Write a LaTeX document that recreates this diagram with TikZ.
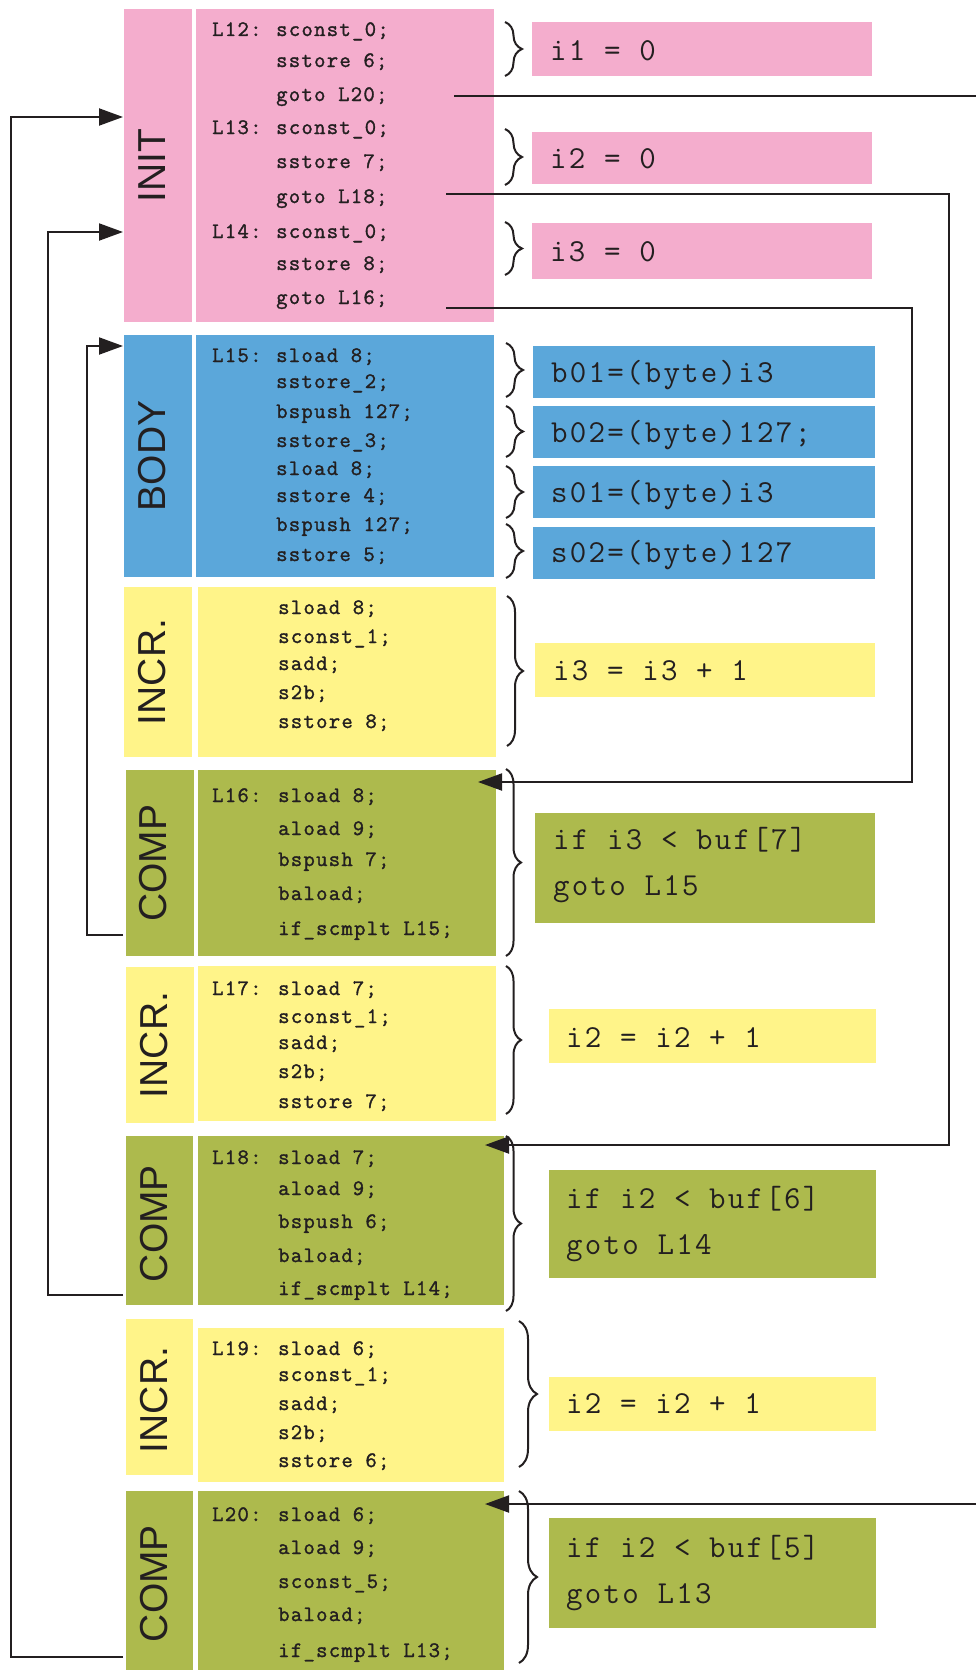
\documentclass[tikz,border=0pt]{standalone}
\usepackage{fontspec}
\usetikzlibrary{arrows.meta,decorations.pathreplacing,fit}
\newfontfamily\codefam[LetterSpace=6,FakeBold=1.5]{Latin Modern Mono}
\newfontfamily\resfam[LetterSpace=7]{Latin Modern Mono}
\newfontfamily\labfam{Liberation Sans}
\definecolor{ink}{HTML}{231F20}
\definecolor{pinkc}{HTML}{F4ADCD}
\definecolor{bluec}{HTML}{5BA7DA}
\definecolor{yelc}{HTML}{FFF489}
\definecolor{grnc}{HTML}{ADBA4D}

\begin{document}
\begin{tikzpicture}[x=1pt,y=-1pt,
  blk/.style={inner sep=0pt, outer sep=0pt, draw=none},
  code/.style={font=\codefam\fontsize{22}{24}\selectfont, text=ink, inner sep=0pt, anchor=base west},
  res/.style={font=\resfam\fontsize{32}{34}\selectfont, text=ink, inner sep=0pt, anchor=base west},
  lab/.style={font=\labfam\fontsize{39}{40}\selectfont, text=ink, inner sep=0pt, rotate=90},
  brc/.style={draw=ink, line width=2pt, decorate, decoration={brace, amplitude=#1}},
  brc/.default=17pt,
  conn/.style={draw=ink, line width=2pt},
  arr/.style={conn, -{Triangle[length=24pt,width=17pt]}}]

\useasboundingbox (0,0) rectangle (976,1670);

% ---------- section labels and code blocks ----------
\node[blk, fill=pinkc, fit={(124,9) (192,322)}]    (initlab)  {};
\node[blk, fill=pinkc, fit={(196,9) (494,322)}]    (initcode) {};
\node[blk, fill=bluec, fit={(124,335) (192,577)}]  (bodylab)  {};
\node[blk, fill=bluec, fit={(196,335) (494,577)}]  (bodycode) {};
\node[blk, fill=yelc, fit={(124,587) (192,757)}]   (inc1lab)  {};
\node[blk, fill=yelc, fit={(198,587) (496,757)}]   (inc1code) {};
\node[blk, fill=grnc, fit={(126,770) (194,956)}]   (comp1lab) {};
\node[blk, fill=grnc, fit={(198,770) (496,956)}]   (comp1code){};
\node[blk, fill=yelc, fit={(126,967) (194,1123)}]  (inc2lab)  {};
\node[blk, fill=yelc, fit={(198,966) (496,1121)}]  (inc2code) {};
\node[blk, fill=grnc, fit={(126,1136) (193,1305)}] (comp2lab) {};
\node[blk, fill=grnc, fit={(198,1136) (504,1305)}] (comp2code){};
\node[blk, fill=yelc, fit={(126,1319) (193,1475)}] (inc3lab)  {};
\node[blk, fill=yelc, fit={(198,1328) (504,1482)}] (inc3code) {};
\node[blk, fill=grnc, fit={(126,1491) (193,1670)}] (comp3lab) {};
\node[blk, fill=grnc, fit={(198,1491) (504,1670)}] (comp3code){};

\node[lab] (initT)  at ([xshift=-5.5pt]initlab.center)  {INIT};
\node[lab] (bodyT)  at ([xshift=-5.5pt]bodylab.center)  {BODY};
\node[lab] (inc1T)  at ([xshift=-5.5pt]inc1lab.center)  {INCR.};
\node[lab] (comp1T) at ([xshift=-7pt]comp1lab.center)   {COMP};
\node[lab] (inc2T)  at ([xshift=-6pt]inc2lab.center)    {INCR.};
\node[lab] (comp2T) at ([xshift=-5pt,yshift=-3pt]comp2lab.center) {COMP};
\node[lab] (inc3T)  at ([xshift=-5pt,yshift=-3pt]inc3lab.center)  {INCR.};
\node[lab] (comp3T) at ([xshift=-5pt,yshift=-3pt]comp3lab.center) {COMP};

% ---------- bytecode ----------
\node[code] (c12)  at (212,36)  {L12:};
\node[code] (c12a) at (276,36)  {sconst\_0;};
\node[code] (c12b) at (276,67)  {sstore 6;};
\node[code] (c12c) at (276,101) {goto L20;};
\node[code] (c13)  at (212,134) {L13:};
\node[code] (c13a) at (276,134) {sconst\_0;};
\node[code] (c13b) at (276,168) {sstore 7;};
\node[code] (c13c) at (276,203) {goto L18;};
\node[code] (c14)  at (212,238) {L14:};
\node[code] (c14a) at (276,238) {sconst\_0;};
\node[code] (c14b) at (276,270) {sstore 8;};
\node[code] (c14c) at (276,304) {goto L16;};

\node[code] (c15)  at (212,362) {L15:};
\node[code] (c15a) at (276,362) {sload 8;};
\node[code] (c15b) at (276,388) {sstore\_2;};
\node[code] (c15c) at (276,418) {bspush 127;};
\node[code] (c15d) at (276,447) {sstore\_3;};
\node[code] (c15e) at (276,475) {sload 8;};
\node[code] (c15f) at (276,502) {sstore 4;};
\node[code] (c15g) at (276,531) {bspush 127;};
\node[code] (c15h) at (276,561) {sstore 5;};

\node[code] (cxa) at (278,614) {sload 8;};
\node[code] (cxb) at (278,643) {sconst\_1;};
\node[code] (cxc) at (278,670) {sadd;};
\node[code] (cxd) at (278,699) {s2b;};
\node[code] (cxe) at (278,728) {sstore 8;};

\node[code] (c16)  at (212,802) {L16:};
\node[code] (c16a) at (278,802) {sload 8;};
\node[code] (c16b) at (278,835) {aload 9;};
\node[code] (c16c) at (278,866) {bspush 7;};
\node[code] (c16d) at (278,900) {baload;};
\node[code] (c16e) at (278,935) {if\_scmplt L15;};

\node[code] (c17)  at (212,995)  {L17:};
\node[code] (c17a) at (278,995)  {sload 7;};
\node[code] (c17b) at (278,1023) {sconst\_1;};
\node[code] (c17c) at (278,1049) {sadd;};
\node[code] (c17d) at (278,1078) {s2b;};
\node[code] (c17e) at (278,1108) {sstore 7;};

\node[code] (c18)  at (212,1164) {L18:};
\node[code] (c18a) at (278,1164) {sload 7;};
\node[code] (c18b) at (278,1195) {aload 9;};
\node[code] (c18c) at (278,1228) {bspush 6;};
\node[code] (c18d) at (278,1262) {baload;};
\node[code] (c18e) at (278,1295) {if\_scmplt L14;};

\node[code] (c19)  at (212,1355) {L19:};
\node[code] (c19a) at (278,1355) {sload 6;};
\node[code] (c19b) at (278,1381) {sconst\_1;};
\node[code] (c19c) at (278,1410) {sadd;};
\node[code] (c19d) at (278,1439) {s2b;};
\node[code] (c19e) at (278,1467) {sstore 6;};

\node[code] (c20)  at (212,1521) {L20:};
\node[code] (c20a) at (278,1521) {sload 6;};
\node[code] (c20b) at (278,1554) {aload 9;};
\node[code] (c20c) at (278,1588) {sconst\_5;};
\node[code] (c20d) at (278,1621) {baload;};
\node[code] (c20e) at (278,1657) {if\_scmplt L13;};

% ---------- source-level meaning ----------
\node[blk, fill=pinkc, fit={(532,22) (872,76)}]    (r1) {};
\node[blk, fill=pinkc, fit={(532,132) (872,184)}]  (r2) {};
\node[blk, fill=pinkc, fit={(532,223) (872,279)}]  (r3) {};
\node[blk, fill=bluec, fit={(533,346) (875,398)}]  (b1) {};
\node[blk, fill=bluec, fit={(533,406) (875,458)}]  (b2) {};
\node[blk, fill=bluec, fit={(533,466) (875,518)}]  (b3) {};
\node[blk, fill=bluec, fit={(533,527) (875,579)}]  (b4) {};
\node[blk, fill=yelc,  fit={(535,643) (875,697)}]  (y1) {};
\node[blk, fill=grnc,  fit={(535,813) (875,923)}]  (g1) {};
\node[blk, fill=yelc,  fit={(549,1009) (876,1063)}] (y2) {};
\node[blk, fill=grnc,  fit={(549,1170) (876,1278)}] (g2) {};
\node[blk, fill=yelc,  fit={(549,1377) (876,1431)}] (y3) {};
\node[blk, fill=grnc,  fit={(549,1518) (876,1628)}] (g3) {};

\node[res] (t1)  at (550,60)   {i1 = 0};
\node[res] (t2)  at (550,168)  {i2 = 0};
\node[res] (t3)  at (550,261)  {i3 = 0};
\node[res] (t4)  at (551,382)  {b01=(byte)i3};
\node[res] (t5)  at (551,442)  {b02=(byte)127;};
\node[res] (t6)  at (551,502)  {s01=(byte)i3};
\node[res] (t7)  at (551,562)  {s02=(byte)127};
\node[res] (t8)  at (553,680)  {i3 = i3 + 1};
\node[res] (t9)  at (553,849)  {if i3 < buf[7]};
\node[res] (t10) at (553,895)  {goto L15};
\node[res] (t11) at (566,1047) {i2 = i2 + 1};
\node[res] (t12) at (566,1208) {if i2 < buf[6]};
\node[res] (t13) at (566,1254) {goto L14};
\node[res] (t14) at (566,1413) {i2 = i2 + 1};
\node[res] (t15) at (566,1557) {if i2 < buf[5]};
\node[res] (t16) at (566,1603) {goto L13};

% ---------- braces ----------
\draw[brc] (505,22) -- (505,76);
\draw[brc] (505,129) -- (505,185);
\draw[brc] (505,222) -- (505,275);
\draw[brc] (506,343) -- (506,397);
\draw[brc] (506,406) -- (506,457);
\draw[brc] (506,466) -- (506,518);
\draw[brc] (506,524) -- (506,578);
\draw[brc=16pt] (507,596) -- (507,746);
\draw[brc=15pt] (506,769) -- (506,956);
\draw[brc=15pt] (506,966) -- (506,1114);
\draw[brc=15pt] (506,1136) -- (506,1311);
\draw[brc=18pt] (519,1321) -- (519,1467);
\draw[brc=18pt] (519,1491) -- (519,1663);

% ---------- control flow ----------
\coordinate (edgeTop) at (976,96);
\coordinate (edgeBot) at (976,1504);

% backward branches of the loop tests
\draw[arr] (comp1lab.west |- c16e.base) ++(-3,0) -- ++(-36,0)
  |- ([xshift=-1pt,yshift=-11pt]bodylab.north west);
\draw[arr] (comp2lab.west |- c18e.base) ++(-3,0) -- ++(-75,0)
  |- ([xshift=-1pt,yshift=-223pt]initlab.north west);
\draw[arr] (comp3lab.west |- c20e.base) ++(-3,0) -- ++(-112,0)
  |- ([xshift=-1pt,yshift=-108pt]initlab.north west);

% forward jumps to the tests
\draw[conn] ([xshift=-40pt,yshift=-87pt]initcode.north east) -- (edgeTop);
\draw[arr] ([xshift=-48pt,yshift=-185pt]initcode.north east) -- ++(503,0)
  |- ([xshift=-19pt,yshift=-9pt]comp2code.north east);
\draw[arr] ([xshift=-48pt,yshift=-299pt]initcode.north east) -- ++(466,0)
  |- ([xshift=-18pt,yshift=-12pt]comp1code.north east);
\draw[arr] (edgeBot) -- ([xshift=-19pt,yshift=-13pt]comp3code.north east);

\end{tikzpicture}
\end{document}
